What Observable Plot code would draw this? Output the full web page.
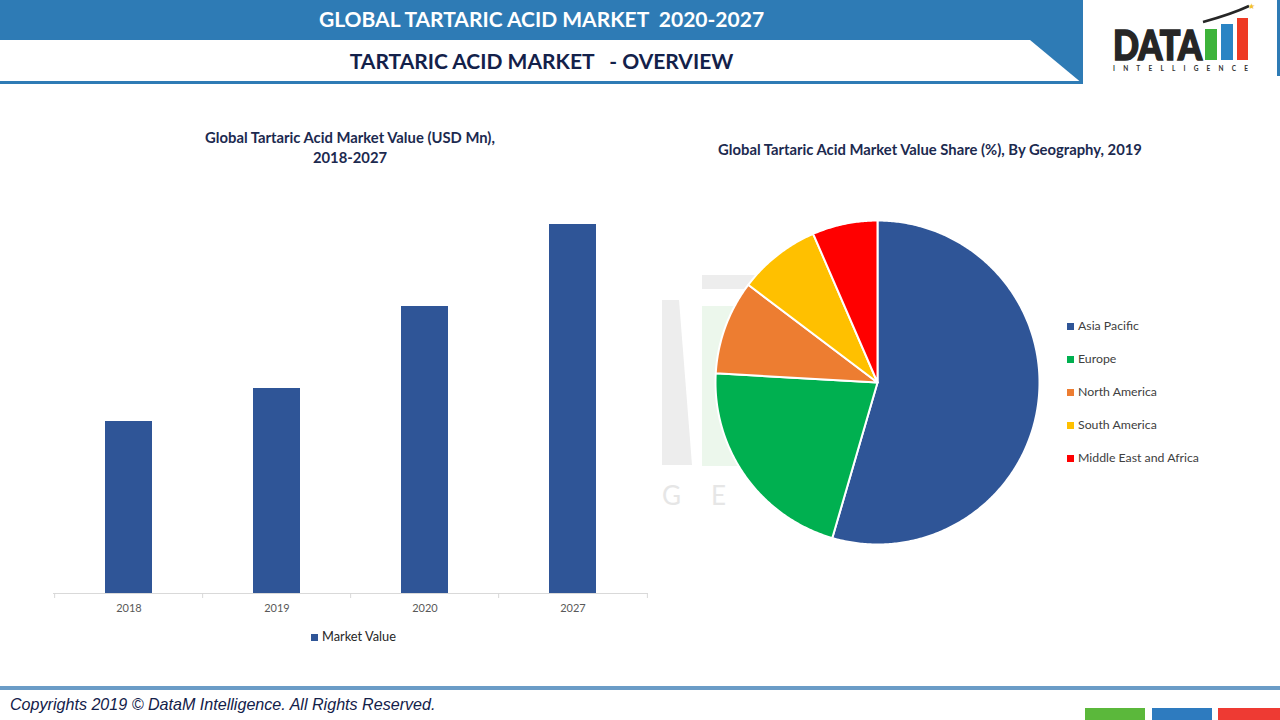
<!DOCTYPE html>
<html>
<head>
<meta charset="utf-8">
<script src="https://cdn.jsdelivr.net/npm/d3@7"></script>
<script src="https://cdn.jsdelivr.net/npm/@observablehq/plot@0.6"></script>
<style>
  html, body { margin: 0; padding: 0; background: #fff; }
  #page { position: relative; width: 1280px; height: 720px; overflow: hidden; background: #fff; font-family: Lato, "Open Sans", sans-serif; }
  .abs { position: absolute; }
  .hdr { font-family: Lato, sans-serif; font-weight: bold; white-space: pre; }
  .ctitle { font-family: Lato, sans-serif; font-weight: bold; font-size: 14.8px; color: #1c2a4f; text-align: center; line-height: 20px; white-space: nowrap; }
  .leg { font-family: Lato, sans-serif; font-size: 12.3px; color: #404040; white-space: nowrap; }
  .sw { display: inline-block; width: 7px; height: 7px; margin-right: 4px; vertical-align: 0px; }
</style>
</head>
<body>
<div id="page">
  <svg class="abs" style="left:0;top:0" width="1280" height="720">
    <polygon points="0,0 1083,0 1083,40 0,40" fill="#2e7bb5"/>
    <polygon points="1030,40 1083,40 1083,84" fill="#2e7bb5"/>
    <rect x="0" y="81" width="1083" height="3" fill="#2e7bb5"/>
    <rect x="1277" y="0" width="3" height="76" fill="#2e7bb5"/>
    <!-- faint watermark -->
    <polygon points="662,300 679,300 692,465 662,465" fill="#ededed"/>
    <rect x="702" y="275" width="62" height="14" fill="#ededed"/>
    <rect x="702" y="306" width="44" height="160" fill="#ecf7ec"/>
    <text x="662" y="505" font-family="Lato, sans-serif" font-size="26" fill="#e6e6e6" letter-spacing="30">GE</text>
    <!-- footer -->
    <rect x="0" y="686" width="1280" height="4" fill="#6b9cc7"/>
    <rect x="1085" y="708" width="60" height="12" fill="#5bb83b"/>
    <rect x="1152" y="708" width="60" height="12" fill="#2e7bbf"/>
    <rect x="1218" y="708" width="62" height="12" fill="#ee3a33"/>
    <!-- logo -->
    <text x="1113" y="60" font-family="Lato, sans-serif" font-weight="900" font-size="41" fill="#262626" stroke="#262626" stroke-width="1.6" textLength="89" lengthAdjust="spacingAndGlyphs">DATA</text>
    <rect x="1205" y="29" width="12" height="31" fill="#3db33a"/>
    <rect x="1221" y="24" width="12" height="36" fill="#2a84c4"/>
    <rect x="1237" y="18" width="11" height="42" fill="#ee3a24"/>
    <path d="M1203,22 Q1232,14 1249,6" stroke="#262626" stroke-width="2.5" fill="none"/>
    <text x="1248" y="9" font-size="8" fill="#f2c12e">★</text>
    <text x="1113" y="71" font-family="Lato, sans-serif" font-weight="bold" font-size="6.5" fill="#333" textLength="135" lengthAdjust="spacing">INTELLIGENCE</text>
  </svg>

  <div class="abs hdr" style="left:0;top:6px;width:1083px;text-align:center;font-size:21px;color:#fff;">GLOBAL TARTARIC ACID MARKET  2020-2027</div>
  <div class="abs hdr" style="left:0;top:48px;width:1083px;text-align:center;font-size:21px;color:#13214a;">TARTARIC ACID MARKET   - OVERVIEW</div>

  <div class="abs ctitle" style="left:150px;top:127px;width:400px;">Global Tartaric Acid Market Value (USD Mn),<br>2018-2027</div>
  <div class="abs ctitle" style="left:630px;top:139px;width:600px;">Global Tartaric Acid Market Value Share (%), By Geography, 2019</div>

  <div id="bar" class="abs" style="left:0;top:180px;"></div>
  <div class="abs leg" style="left:311px;top:628px;font-size:12.8px;color:#262626;"><span class="sw" style="background:#2f5597"></span>Market Value</div>

  <div id="pie" class="abs" style="left:660px;top:190px;"></div>
  <div id="pieLegend" class="abs" style="left:1067px;top:318px;"></div>

  <div class="abs" style="left:10px;top:695px;font-family:'Liberation Sans',sans-serif;font-style:italic;font-size:16.1px;color:#13214a;white-space:nowrap;">Copyrights 2019 © DataM Intelligence. All Rights Reserved.</div>
</div>

<script>
// ---- Data ----
const years = ["2018", "2019", "2020", "2027"];
const marketValue = [172, 205, 287, 369];

const regions = ["Asia Pacific", "Europe", "North America", "South America", "Middle East and Africa"];
const shares = [54.5, 21.4, 9.4, 8.2, 6.5];
const regionColors = ["#2f5597", "#00b050", "#ed7d31", "#ffc000", "#ff0000"];

// ---- Bar chart ----
const barData = years.map((y, i) => ({year: y, value: marketValue[i]}));
const barW = 700, barH = 460, mL = 53, mR = 52;
const bandStep = (barW - mL - mR) / years.length;
const bar = Plot.plot({
  width: barW, height: barH,
  marginLeft: mL, marginRight: mR, marginTop: 13, marginBottom: 47,
  style: {fontFamily: "Lato, sans-serif", fontSize: "11px", color: "#595959", background: "transparent"},
  x: {domain: years, paddingInner: 0.68, paddingOuter: 0.34, label: null},
  y: {domain: [0, 400], axis: null},
  marks: [
    Plot.barY(barData, {x: "year", y: "value", fill: "#2f5597"}),
    Plot.ruleY([0], {stroke: "#d9d9d9", strokeWidth: 1}),
    Plot.ruleX(years, {x: d => d, y1: 0, y2: 0, dx: -bandStep / 2, insetBottom: -5, stroke: "#d9d9d9"}),
    Plot.ruleX(years.slice(-1), {x: d => d, y1: 0, y2: 0, dx: bandStep / 2, insetBottom: -5, stroke: "#d9d9d9"}),
    Plot.axisX({tickSize: 0, tickPadding: 11, fontSize: 11, fill: "#595959"})
  ]
});
document.getElementById("bar").appendChild(bar);

// ---- Pie chart ----
const pieData = regions.map((r, i) => ({region: r, share: shares[i], color: regionColors[i]}));
const arcs = d3.pie().sort(null).value(d => d.share)(pieData);
const piePts = [];
arcs.forEach(a => {
  const name = a.data.region;
  piePts.push({region: name, x: 0, y: 0});
  const n = Math.max(2, Math.ceil((a.endAngle - a.startAngle) / 0.01));
  for (let k = 0; k <= n; k++) {
    const t = a.startAngle + (a.endAngle - a.startAngle) * k / n;
    piePts.push({region: name, x: Math.sin(t), y: Math.cos(t)});
  }
  piePts.push({region: name, x: 0, y: 0});
});
const R = 162, cx = 217, cy = 192;
const pie = Plot.plot({
  width: 440, height: 380,
  margin: 0,
  style: {background: "transparent"},
  x: {domain: [-1, 1], range: [cx - R, cx + R], axis: null},
  y: {domain: [-1, 1], range: [cy + R, cy - R], axis: null},
  color: {domain: regions, range: regionColors},
  marks: [
    Plot.line(piePts, {x: "x", y: "y", z: "region", fill: "region", stroke: "#fff", strokeWidth: 2, strokeLinejoin: "round", curve: "linear"})
  ]
});
document.getElementById("pie").appendChild(pie);

// pie legend
const leg = document.getElementById("pieLegend");
regions.forEach((r, i) => {
  const d = document.createElement("div");
  d.className = "leg";
  d.style.position = "absolute";
  d.style.left = "0px";
  d.style.top = (i * 33) + "px";
  d.innerHTML = `<span class="sw" style="background:${regionColors[i]}"></span>${r}`;
  leg.appendChild(d);
});
</script>
</body>
</html>
